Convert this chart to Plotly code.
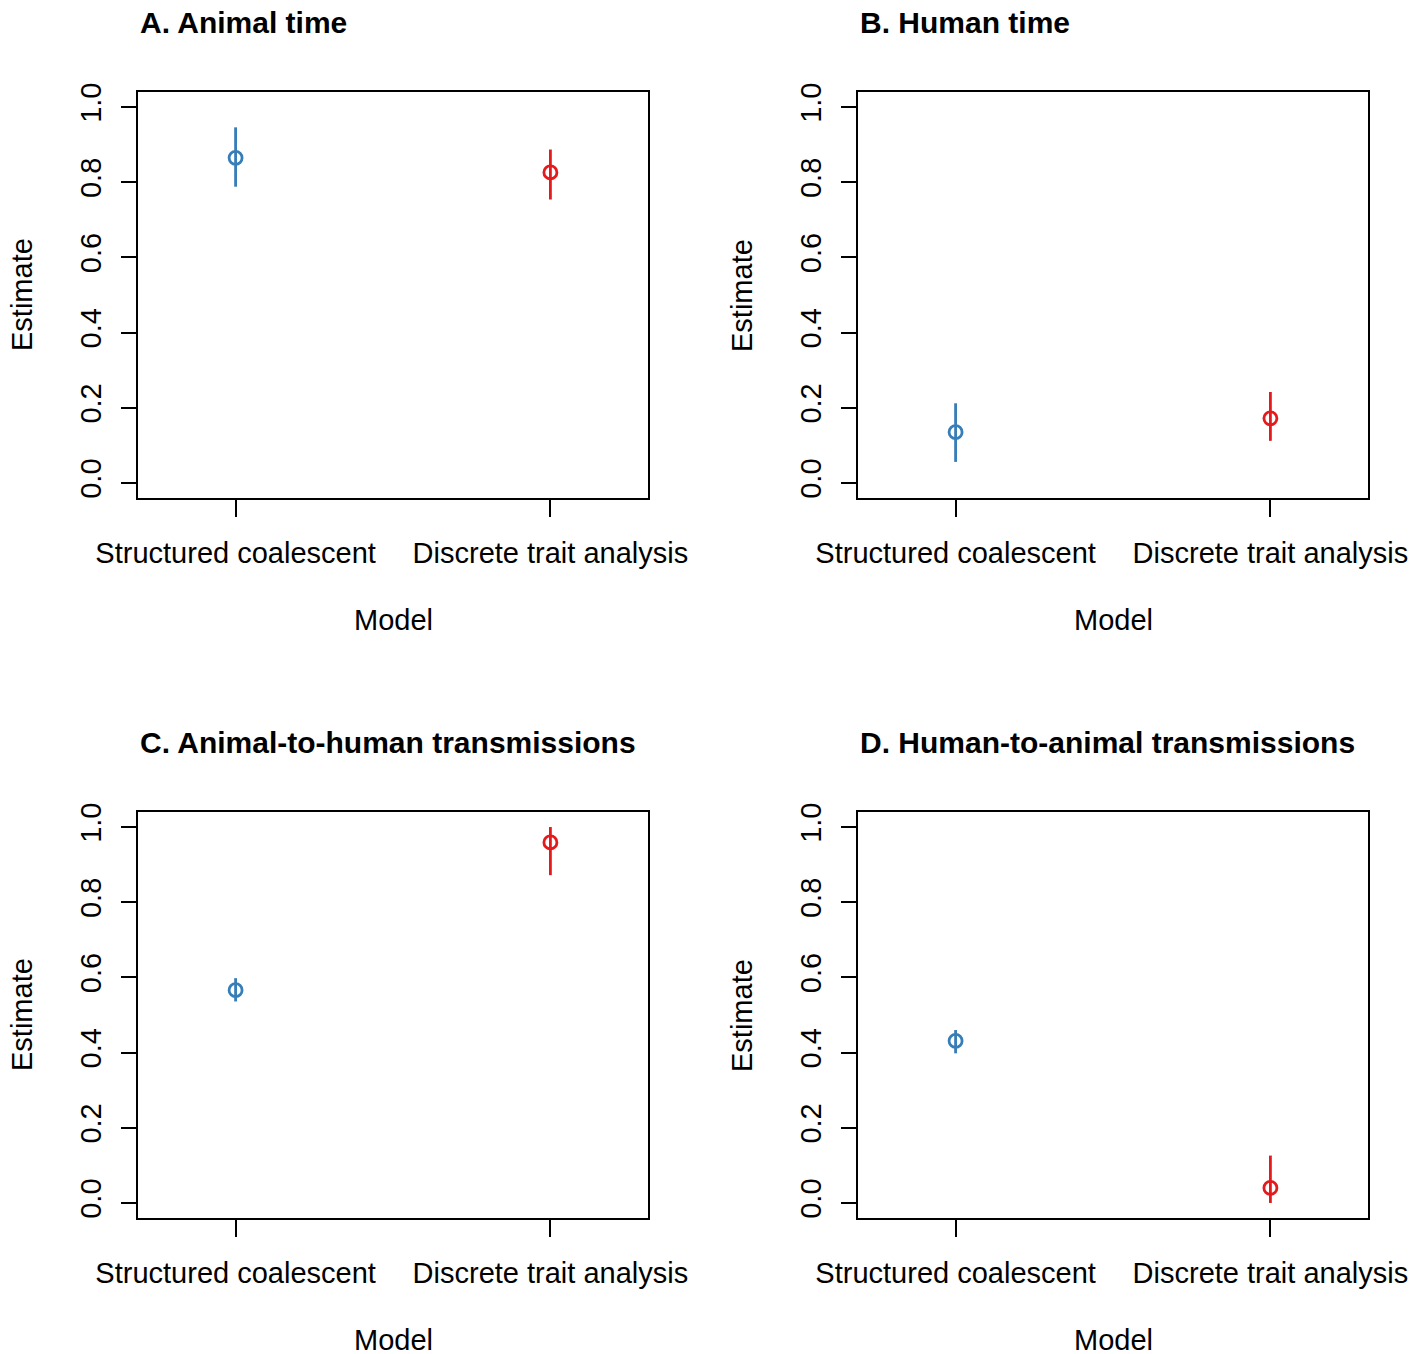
import plotly.graph_objects as go

# Model categories (x positions 1 and 2)
models = ["Structured coalescent", "Discrete trait analysis"]
model_pos = [1, 2]
colors = ["#377EB8", "#E41A1C"]

# Panel titles
titles = [
    "A. Animal time",
    "B. Human time",
    "C. Animal-to-human transmissions",
    "D. Human-to-animal transmissions",
]

# Point estimates with lower / upper interval bounds, per panel
est_a = [0.865, 0.826]
low_a = [0.788, 0.754]
high_a = [0.946, 0.887]

est_b = [0.135, 0.172]
low_b = [0.056, 0.112]
high_b = [0.212, 0.242]

est_c = [0.566, 0.959]
low_c = [0.536, 0.872]
high_c = [0.598, 1.000]

est_d = [0.431, 0.040]
low_d = [0.398, 0.000]
high_d = [0.460, 0.126]

y_ticks = [0.0, 0.2, 0.4, 0.6, 0.8, 1.0]

panels = [
    (est_a, low_a, high_a),
    (est_b, low_b, high_b),
    (est_c, low_c, high_c),
    (est_d, low_d, high_d),
]

W, H = 1426, 1354
FONT = "Liberation Sans, Arial, sans-serif"
FS = 29
FS_TITLE = 30

# plot-region boxes in pixels: (left, right, top, bottom)
boxes = [
    (138, 648, 92, 498),
    (858, 1368, 92, 498),
    (138, 648, 812, 1218),
    (858, 1368, 812, 1218),
]


def px_x(x):
    return x / W


def px_y(y):
    return 1 - y / H


fig = go.Figure()
annotations = []

for i, ((est, lo, hi), (l, r, t, b)) in enumerate(zip(panels, boxes)):
    n = i + 1
    xa = "x" if n == 1 else f"x{n}"
    ya = "y" if n == 1 else f"y{n}"
    for j in range(len(models)):
        fig.add_trace(go.Scatter(
            x=[model_pos[j]], y=[est[j]],
            xaxis=xa, yaxis=ya,
            mode="markers",
            marker=dict(symbol="circle-open", size=13, color=colors[j],
                        line=dict(width=2.8, color=colors[j])),
            error_y=dict(type="data", symmetric=False,
                         array=[hi[j] - est[j]], arrayminus=[est[j] - lo[j]],
                         color=colors[j], thickness=2.8, width=0),
            showlegend=False, hoverinfo="skip", cliponaxis=False,
        ))

    common = dict(showline=True, mirror=True, linecolor="black", linewidth=2.2,
                  ticks="outside", tickwidth=2.2, tickcolor="black",
                  showgrid=False, zeroline=False, automargin=False,
                  tickfont=dict(family=FONT, size=FS, color="black"))
    fig.update_layout({
        ("xaxis" if n == 1 else f"xaxis{n}"): dict(
            domain=[px_x(l), px_x(r)], anchor=ya,
            range=[0.69, 2.31], tickvals=model_pos, ticktext=models,
            ticklen=17, ticklabelstandoff=11, **common),
        ("yaxis" if n == 1 else f"yaxis{n}"): dict(
            domain=[px_y(b), px_y(t)], anchor=xa,
            range=[-0.04, 1.04], tickvals=y_ticks, tickformat=".1f",
            tickangle=-90, ticklen=15, ticklabelstandoff=8, **common),
    })

    cx = (l + r) / 2
    cy = (t + b) / 2
    annotations.append(dict(
        text=f"<b>{titles[i]}</b>", xref="paper", yref="paper",
        x=px_x(l), y=px_y(t - 70), xanchor="left", yanchor="middle",
        showarrow=False, font=dict(family=FONT, size=FS_TITLE, color="black")))
    annotations.append(dict(
        text="Model", xref="paper", yref="paper",
        x=px_x(cx), y=px_y(b + 122), xanchor="center", yanchor="middle",
        showarrow=False, font=dict(family=FONT, size=FS, color="black")))
    annotations.append(dict(
        text="Estimate", xref="paper", yref="paper",
        x=px_x(l - 116), y=px_y(cy), xanchor="center", yanchor="middle",
        textangle=-90,
        showarrow=False, font=dict(family=FONT, size=FS, color="black")))

fig.update_layout(
    width=W, height=H,
    margin=dict(l=0, r=0, t=0, b=0),
    paper_bgcolor="white", plot_bgcolor="white",
    annotations=annotations,
)

fig.write_html("out.html")
